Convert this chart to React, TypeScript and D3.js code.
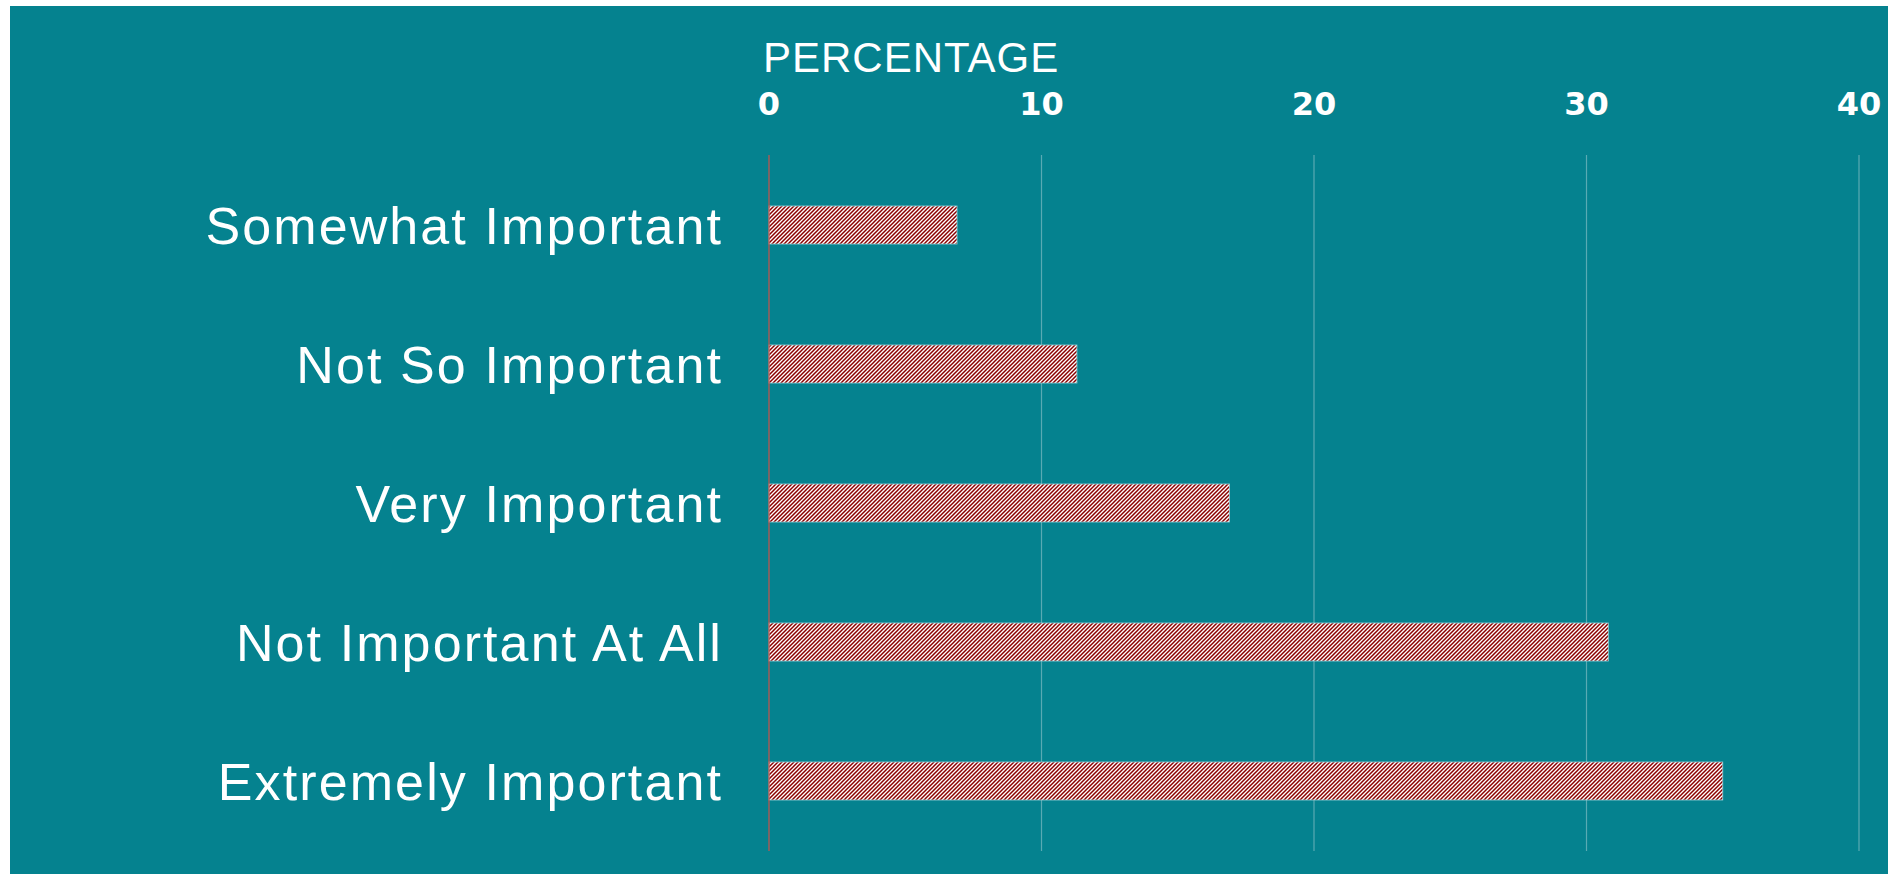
import React from 'react';
import * as d3 from 'd3';

// survey answers, top to bottom as drawn
const categories = [
    'Somewhat Important',
    'Not So Important',
    'Very Important',
    'Not Important At All',
    'Extremely Important'
];
const percentages = [6.9, 11.3, 16.9, 30.8, 35.0];
const xTicks = [0, 10, 20, 30, 40];
const axisTitle = 'PERCENTAGE';

const W = 1888;
const H = 874;
const bg = '#05828f';
const hatch = '#8b0000';

const App = () => {
    const x = d3.scaleLinear().domain([0, 40]).range([769, 1859]);
    const y = d3.scaleBand<string>()
        .domain(categories)
        .range([155, 851])
        .paddingInner(0.728)
        .paddingOuter(0.364);
    const [y0, y1] = [155, 851];

    return (
        <svg width={W} height={H} style={{position: 'absolute', left: 0, top: 0, background: '#fff'}}>
            <defs>
                <pattern id="hatch" patternUnits="userSpaceOnUse" width={4} height={4}>
                    <rect width={4} height={4} fill="#fff" />
                    <path d="M-1,1 L1,-1 M0,4 L4,0 M3,5 L5,3" stroke={hatch} strokeWidth={1.5} />
                </pattern>
            </defs>
            <rect x={10} y={6} width={W - 10} height={H - 6} fill={bg} />

            {/* gridlines */}
            {xTicks.filter(t => t > 0).map(t => (
                <line key={'g' + t} x1={x(t)} x2={x(t)} y1={y0} y2={y1}
                      stroke="#5aaab3" strokeWidth={1.2} />
            ))}

            {/* tick labels */}
            {xTicks.map(t => (
                <text key={'t' + t} x={x(t)} y={115} textAnchor="middle" fill="#fff"
                      fontFamily="'DejaVu Sans', sans-serif" fontWeight="bold" fontSize={32}>
                    {t}
                </text>
            ))}

            <text x={x(0) - 6} y={72} fill="#fff" fontFamily="'Liberation Sans', Arial, sans-serif"
                  fontSize={42} letterSpacing={1}>
                {axisTitle}
            </text>

            {/* bars */}
            {categories.map((c, i) => (
                <rect key={c} x={x(0)} y={Math.round(y(c)!)} width={x(percentages[i]) - x(0)}
                      height={Math.round(y.bandwidth())}
                      fill="url(#hatch)" stroke="#9fd0d6" strokeWidth={0.8} />
            ))}

            {/* category labels */}
            {categories.map(c => (
                <text key={'l' + c} x={723} y={y(c)! + y.bandwidth() / 2 + 19} textAnchor="end"
                      fill="#fff" fontFamily="'Liberation Sans', Arial, sans-serif" fontSize={52}
                      letterSpacing={2.1}>
                    {c}
                </text>
            ))}

            {/* zero line */}
            <line x1={x(0)} x2={x(0)} y1={y0} y2={y1} stroke="#c8524a" strokeWidth={1.2} />
        </svg>
    );
};

export default App;
